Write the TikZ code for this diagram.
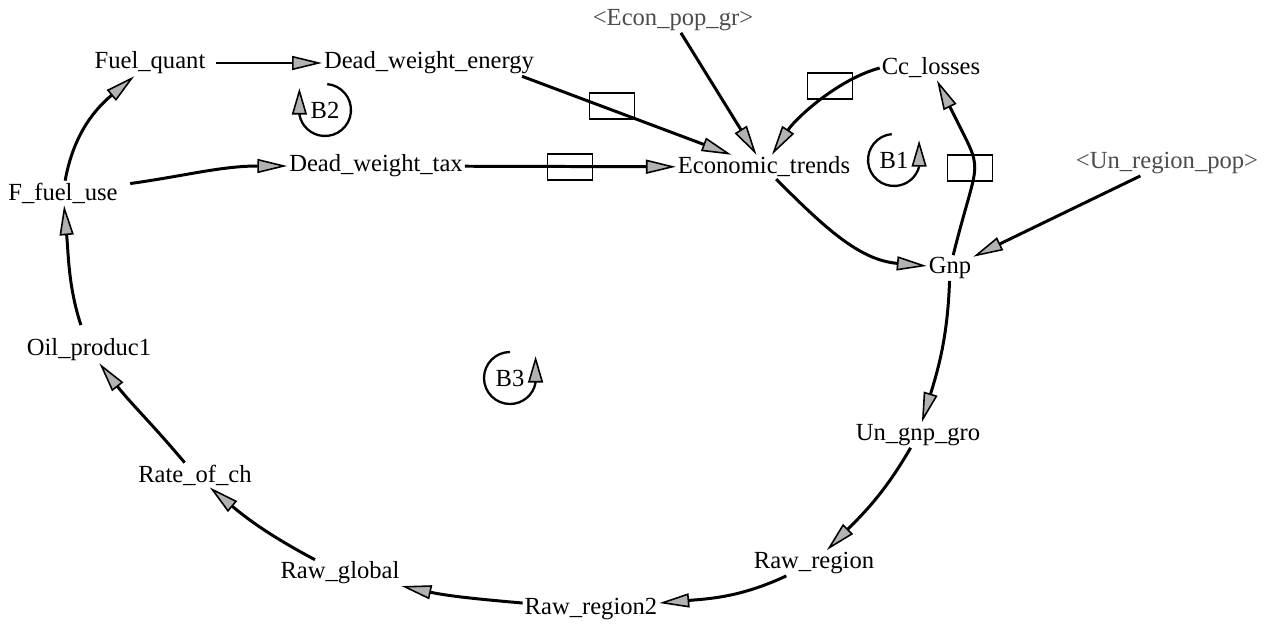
\documentclass[tikz,border=0pt]{standalone}
\usepackage{fontspec}
\setmainfont{Liberation Serif}
\usetikzlibrary{arrows.meta}

\begin{document}
\begin{tikzpicture}[x=0.02cm,y=-0.02cm,
  font=\fontsize{14}{16}\selectfont,
  var/.style={inner sep=1pt},
  shadowVar/.style={inner sep=1pt,text=black!70},
  link/.style={line width=1.7pt,
    -{Triangle[length=17pt,width=8pt,fill=gray!60,line width=0.9pt]}},
  valve/.style={draw,line width=1pt,minimum width=25.6pt,
    minimum height=15pt,inner sep=0pt},
  loopArc/.style={line width=1.3pt,
    -{Triangle[length=15pt,width=8.5pt,fill=gray!60,line width=0.9pt]}}]
\useasboundingbox (0,0) rectangle (1272,626);

% Variables of the outer loop
\node[var] (fuelQuant) at (150,63) {Fuel\_quant};
\node[var] (dwEnergy) at (429,63) {Dead\_weight\_energy};
\node[var] (dwTax) at (376,166) {Dead\_weight\_tax};
\node[var] (economicTrends) at (764,167) {Economic\_trends};
\node[var] (fFuelUse) at (63,193) {F\_fuel\_use};
\node[var] (oilProduc) at (89,350) {Oil\_produc1};
\node[var] (rateOfCh) at (195,475) {Rate\_of\_ch};
\node[var] (rawGlobal) at (340,573) {Raw\_global};
\node[var] (rawRegion2) at (591,609) {Raw\_region2};
\node[var] (rawRegion) at (814,563) {Raw\_region};
\node[var] (unGnpGro) at (918,435) {Un\_gnp\_gro};
\node[var] (gnp) at (950,268) {Gnp};
\node[var] (ccLosses) at (931,68) {Cc\_losses};

% Shadow variables
\node[shadowVar] (econPopGr) at (673,20) {<Econ\_pop\_gr>};
\node[shadowVar] (unRegionPop) at (1167,163) {<Un\_region\_pop>};

% Valves sitting on the links
\foreach \valveName/\vx/\vy in {Energy/612/106,Tax/570/167,
                                Losses/830/86,Gnp/970/168} {
  \node[valve] (valve\valveName) at (\vx,\vy) {};
}

% Loop markers, the tip stands upright at the end of the arc
\foreach \loopName/\lx/\ly/\startAng/\endAng in {B1/894/160/95/345,
                                                 B2/325/110/85/-170,
                                                 B3/510/378/90/350} {
  \node (loop\loopName) at (\lx,\ly) {\loopName};
  \draw[loopArc] (loop\loopName.center) ++(\startAng:0.52cm)
    arc[start angle=\startAng,end angle=\endAng,radius=0.52cm]
    -- ++(90:15pt);
}

% Links
\draw[link,shorten <=5pt] (fuelQuant) -- (dwEnergy);
\draw[link] (fFuelUse) to[out=80,in=220] (fuelQuant);
\draw[link,shorten <=6pt] (fFuelUse) to[out=8,in=180] (dwTax);
\draw[link,shorten <=7pt] (oilProduc) to[out=108,in=275] (fFuelUse);
\draw[link] (rateOfCh) to[out=130,in=308] (oilProduc);
\draw[link] (rawGlobal) to[out=152,in=320] (rateOfCh);
\draw[link] (rawRegion2) to[out=175,in=348] (rawGlobal);
\draw[link] (rawRegion) to[out=205,in=5] (rawRegion2);
\draw[link] (unGnpGro) to[out=240,in=45] (rawRegion);
\draw[link] (gnp) to[out=268,in=73] (unGnpGro);
\draw[link] (economicTrends) to[out=-45,in=175] (gnp);
\draw[link] (gnp) to[out=76,in=296,looseness=1.6] (ccLosses);
\draw[link] (ccLosses.west) to[out=195,in=57,looseness=0.8] (economicTrends);
\draw[link] (econPopGr) -- (economicTrends);
\draw[link] ([xshift=-8pt]dwEnergy.south east) -- (economicTrends);
\draw[link] (dwTax) -- (economicTrends);
\draw[link] (unRegionPop) -- (gnp);
\end{tikzpicture}
\end{document}
